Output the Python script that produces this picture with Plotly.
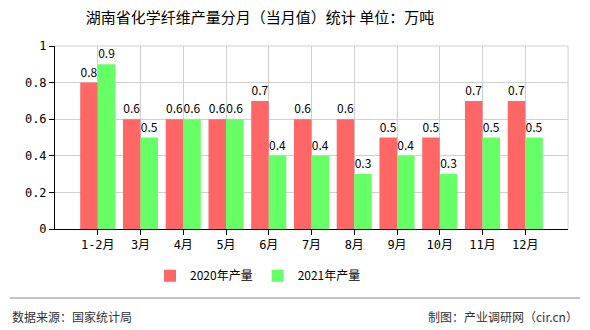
import plotly.graph_objects as go

categories = ["1-2月", "3月", "4月", "5月", "6月", "7月", "8月", "9月", "10月", "11月", "12月"]
values_2020 = [0.8, 0.6, 0.6, 0.6, 0.7, 0.6, 0.6, 0.5, 0.5, 0.7, 0.7]
values_2021 = [0.9, 0.5, 0.6, 0.6, 0.4, 0.4, 0.3, 0.4, 0.3, 0.5, 0.5]
series_names = ["2020年产量", "2021年产量"]
y_ticks = [0, 0.2, 0.4, 0.6, 0.8, 1]

FONT = "Noto Sans CJK SC"
MONO = "DejaVu Sans Mono, Noto Sans CJK SC"
x_idx = list(range(len(categories)))

fig = go.Figure()
for name, vals, color in [(series_names[0], values_2020, "#FF6666"),
                          (series_names[1], values_2021, "#66FF66")]:
    fig.add_trace(go.Bar(
        x=x_idx, y=vals, name=name, marker=dict(color=color, line=dict(width=0)),
        text=[f"{v:g}" for v in vals], textposition="outside", constraintext="none",
        textfont=dict(family=FONT, size=12, color="#000"), cliponaxis=False,
    ))

fig.update_layout(
    width=590, height=330,
    margin=dict(l=55, r=22, t=46, b=101),
    paper_bgcolor="white", plot_bgcolor="white",
    barmode="group", bargap=0.18, bargroupgap=0,
    title=dict(text="湖南省化学纤维产量分月（当月值）统计 单位：万吨", x=260 / 590, xanchor="center",
               y=1 - 18 / 330, yanchor="middle", font=dict(family=FONT, size=15, color="#000")),
    font=dict(family=FONT, size=12, color="#000"),
    showlegend=True,
    legend=dict(orientation="h", x=(258 - 55) / 513, xanchor="center", y=-0.255, yanchor="middle",
                font=dict(family=FONT, size=12, color="#000"), itemwidth=30),
    xaxis=dict(range=[-1, 11], tickvals=x_idx, ticktext=categories, showgrid=True,
               gridcolor="#d0d0d0", showline=True, linecolor="#000", ticks="outside",
               ticklen=5, tickcolor="#000", tickfont=dict(family=MONO, size=12), zeroline=False,
               mirror=False),
    yaxis=dict(range=[0, 1], tickvals=y_ticks, ticktext=[f"{v:g}" for v in y_ticks],
               showgrid=True, gridcolor="#d0d0d0", showline=True, linecolor="#000",
               ticks="outside", ticklen=5, tickcolor="#000", zeroline=False,
               tickfont=dict(family=MONO, size=12)),
    shapes=[
        dict(type="line", xref="paper", yref="paper", x0=1, x1=1, y0=0, y1=1,
             line=dict(color="#d0d0d0", width=1)),
        dict(type="line", xref="paper", yref="paper", x0=0, x1=1, y0=1, y1=1,
             line=dict(color="#d0d0d0", width=1)),
        dict(type="line", xref="paper", yref="paper",
             x0=(10 - 55) / 513, x1=(580 - 55) / 513, y0=-(298 - 229) / 183, y1=-(298 - 229) / 183,
             line=dict(color="#888", width=1)),
    ],
    annotations=[
        dict(text="数据来源：国家统计局", xref="paper", yref="paper",
             x=(10 - 55) / 513, y=-(316 - 229) / 183, xanchor="left", yanchor="middle",
             showarrow=False, font=dict(family=FONT, size=12, color="#333")),
        dict(text="制图：产业调研网（cir.cn）", xref="paper", yref="paper",
             x=(580 - 55) / 513, y=-(316 - 229) / 183, xanchor="right", yanchor="middle",
             showarrow=False, font=dict(family=FONT, size=12, color="#333")),
    ],
)

fig.write_html("out.html")
